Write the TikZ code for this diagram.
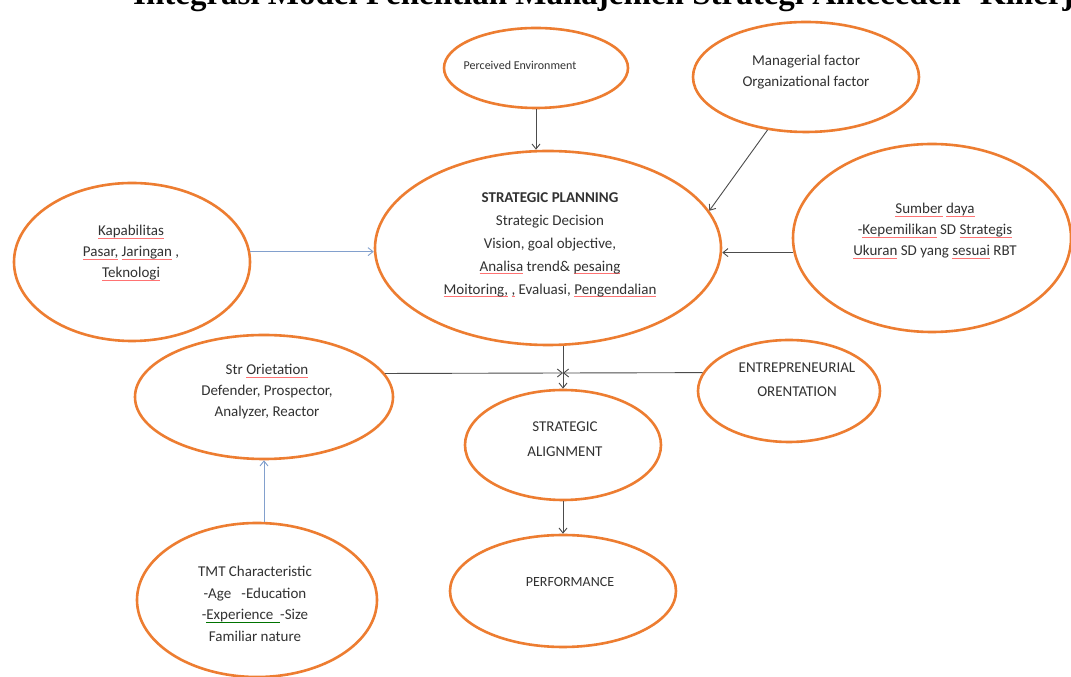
\documentclass[tikz,border=0pt]{standalone}
\usepackage{fontspec}
\setmainfont{Carlito}
\newfontfamily\titlefont{Liberation Serif}
\usetikzlibrary{arrows.meta,shapes.geometric}
\definecolor{orng}{RGB}{237,125,49}
\definecolor{txt}{RGB}{50,50,50}
\definecolor{blu}{RGB}{130,160,205}
\newsavebox\sqbox
\newcommand\sq[1]{\sbox\sqbox{#1}\rlap{\color{red!55}\rule[-2.5pt]{\wd\sqbox}{0.7pt}}\usebox\sqbox}
\newcommand\sqg[1]{\sbox\sqbox{#1}\rlap{\color{green!45!black}\rule[-2.5pt]{\wd\sqbox}{0.7pt}}\usebox\sqbox}
\begin{document}
\begin{tikzpicture}[x=1pt,y=1pt,
  oval/.style={ellipse, draw=orng, line width=2.6pt, inner sep=0pt},
  lbl/.style={text=txt, align=center, inner sep=0pt, font=\fontsize{15}{21}\selectfont},
  arr/.style={draw=black!70, line width=0.9pt, -{Straight Barb[length=5pt,width=8pt]}},
  barr/.style={arr, draw=blu}]
\useasboundingbox (0,0) rectangle (1071,677);
\clip (0,0) rectangle (1071,677);
\fill[white] (0,0) rectangle (1071,677);

\node[anchor=base west, inner sep=0pt, font=\titlefont\bfseries\fontsize{33}{38}\selectfont] (title) at (133,672.5) {Integrasi Model Penelitian Manajemen Strategi Anteceden -Kinerja};

% ellipses
\node[oval, minimum width=184pt, minimum height=80pt] (pe) at (536,609) {};
\node[oval, minimum width=226pt, minimum height=110pt] (mf) at (806,600) {};
\node[oval, minimum width=346pt, minimum height=194pt] (sp) at (548,429) {};
\node[oval, minimum width=236pt, minimum height=158pt] (kp) at (132,415) {};
\node[oval, minimum width=278pt, minimum height=188pt] (sd) at (932,439) {};
\node[oval, minimum width=258pt, minimum height=124pt] (so) at (264,280) {};
\node[oval, minimum width=182pt, minimum height=102pt] (eo) at (789,286) {};
\node[oval, minimum width=196pt, minimum height=110pt] (al) at (563,232) {};
\node[oval, minimum width=226pt, minimum height=112pt] (pf) at (563,86) {};
\node[oval, minimum width=240pt, minimum height=154pt] (tmt) at (257,77) {};

% texts
\node[lbl, font=\fontsize{12}{15}\selectfont] (pet) at (520,612) {Perceived Environment};
\node[lbl] (mft) at (806,605) {Managerial factor\\Organizational factor};
\node[lbl, font=\fontsize{15}{23}\selectfont] (spt) at (550,432) {\textbf{STRATEGIC PLANNING}\\Strategic Decision\\Vision, goal objective,\\\sq{Analisa} trend\& \sq{pesaing}\\\sq{Moitoring,} \sq{,} Evaluasi, \sq{Pengendalian}};
\node[lbl] (kpt) at (131,424) {\sq{Kapabilitas}\\\sq{Pasar,} \sq{Jaringan} ,\\\sq{Teknologi}};
\node[lbl] (sdt) at (935,446) {\sq{Sumber} \sq{daya}\\-\sq{Kepemilikan} SD \sq{Strategis}\\\sq{Ukuran} SD yang \sq{sesuai} RBT};
\node[lbl] (sot) at (267,285) {Str \sq{Orietation}\\Defender, Prospector,\\Analyzer, Reactor};
\node[lbl, font=\fontsize{15}{24}\selectfont] (eot) at (797,297) {ENTREPRENEURIAL\\ORENTATION};
\node[lbl, font=\fontsize{15}{25}\selectfont] (alt) at (565,238) {STRATEGIC\\ALIGNMENT};
\node[lbl, font=\fontsize{14}{18}\selectfont] (pft) at (570,95) {PERFORMANCE};
\node[lbl, font=\fontsize{15}{21.5}\selectfont] (tmtt) at (255,73) {TMT Characteristic\\-Age~~ -Education\\-\sqg{Experience~~}-Size\\Familiar nature};

% connectors
\coordinate (j) at (563,304);
\draw[arr] (pe.south) -- (pe.south |- sp.north);
\draw[arr] (mf.234) -- (sp.13);
\draw[barr] (kp.5) -- (kp.5 -| sp.west);
\draw[arr] (sd.186) -- (sd.186 -| sp.east);
\draw[arr] (al.north |- sp.south) -- (al.north);
\draw[arr] (so.11) -- (j);
\draw[arr] (eo.168) -- (j);
\draw[arr] (al.south) -- (pf.north);
\draw[barr] (so.south |- tmt.north) -- (so.south);
\end{tikzpicture}
\end{document}
